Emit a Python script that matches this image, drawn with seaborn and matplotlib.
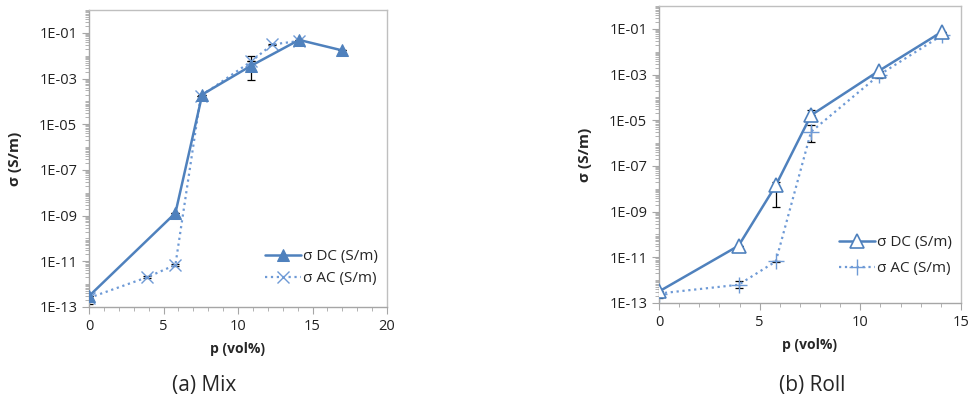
import numpy as np
import seaborn as sns
import matplotlib.pyplot as plt
from matplotlib.ticker import FixedLocator, FuncFormatter, LogLocator, MultipleLocator

# (a) Mix
mix_dc_p = [0, 5.8, 7.6, 10.9, 14.1, 17.0]
mix_dc_s = [3.0e-13, 1.3e-9, 2.0e-4, 3.7e-3, 4.9e-2, 1.7e-2]
mix_dc_lo = [3.0e-13, 1.3e-9, 2.0e-4, 9.0e-4, 4.9e-2, 1.7e-2]
mix_dc_hi = [3.0e-13, 1.3e-9, 2.0e-4, 1.0e-2, 4.9e-2, 1.7e-2]

mix_ac_p = [0, 3.9, 5.8, 7.5, 10.9, 12.3, 14.1]
mix_ac_s = [2.5e-13, 2.0e-12, 7.0e-12, 1.7e-4, 5.7e-3, 3.1e-2, 4.4e-2]
mix_ac_lo = [1.4e-13, 1.8e-12, 6.5e-12, 1.7e-4, 5.7e-3, 2.9e-2, 4.4e-2]
mix_ac_hi = [2.5e-13, 2.2e-12, 7.5e-12, 1.7e-4, 5.7e-3, 3.3e-2, 4.4e-2]

# (b) Roll
roll_dc_p = [0, 3.95, 5.8, 7.55, 10.95, 14.05]
roll_dc_s = [3.2e-13, 3.2e-11, 1.4e-8, 1.65e-5, 1.5e-3, 7.4e-2]
roll_dc_lo = [1.6e-13, 3.2e-11, 1.6e-9, 1.65e-5, 1.5e-3, 7.4e-2]
roll_dc_hi = [3.2e-13, 3.2e-11, 2.0e-8, 2.9e-5, 1.5e-3, 7.4e-2]

roll_ac_p = [0, 3.95, 5.8, 7.55, 10.95, 14.05]
roll_ac_s = [2.6e-13, 6.3e-13, 6.6e-12, 3.1e-6, 9.8e-4, 5.2e-2]
roll_ac_lo = [2.6e-13, 4.5e-13, 6.0e-12, 1.1e-6, 7.0e-4, 5.2e-2]
roll_ac_hi = [2.6e-13, 9.0e-13, 7.2e-12, 6.5e-6, 1.3e-3, 5.2e-2]

dc_color = '#4F81BD'
ac_color = '#6E9AD6'
grid_gray = '#A6A6A6'

sns.set_style('white')
plt.rcParams['font.family'] = ['Open Sans', 'DejaVu Sans']

fig = plt.figure(figsize=(9.7, 4.03), dpi=100)
ax1 = fig.add_axes([89 / 970, 1 - 307 / 403, 298 / 970, 297 / 403])
ax2 = fig.add_axes([659 / 970, 1 - 303 / 403, 302 / 970, 297 / 403])


def draw_errors(ax, p, s, lo, hi):
    s = np.array(s)
    yerr = [s - np.array(lo), np.array(hi) - s]
    ax.errorbar(p, s, yerr=yerr, fmt='none', ecolor='black', elinewidth=0.9,
                capsize=3, capthick=0.9, zorder=1)


def style_axes(ax, xmax):
    ax.set_yscale('log')
    ax.set_ylim(1e-13, 1)
    ax.set_xlim(0, xmax)
    ax.yaxis.set_major_locator(FixedLocator(10.0 ** np.arange(-13, 0, 2)))
    ax.yaxis.set_minor_locator(LogLocator(base=10, subs=np.arange(1, 10), numticks=100))
    ax.yaxis.set_major_formatter(FuncFormatter(lambda v, pos: '1E-%02d' % round(-np.log10(v))))
    ax.yaxis.set_minor_formatter(FuncFormatter(lambda v, pos: ''))
    ax.xaxis.set_major_locator(MultipleLocator(5))
    ax.xaxis.set_minor_locator(MultipleLocator(1))
    for sp in ax.spines.values():
        sp.set_color('#BFBFBF')
        sp.set_linewidth(1.0)
    ax.spines['left'].set_color(grid_gray)
    ax.spines['bottom'].set_color(grid_gray)
    ax.tick_params(which='major', direction='out', length=5, width=0.8, color=grid_gray,
                   labelsize=10.5, labelcolor='#222222', left=True, bottom=True)
    ax.tick_params(which='minor', direction='out', length=3, width=0.6, color=grid_gray,
                   left=True, bottom=True)
    ax.set_xlabel('p (vol%)', fontsize=10, fontweight='bold', labelpad=6)
    ax.set_ylabel('σ (S/m)', fontsize=11, fontweight='bold', labelpad=12)


# Mix panel
draw_errors(ax1, mix_dc_p, mix_dc_s, mix_dc_lo, mix_dc_hi)
draw_errors(ax1, mix_ac_p, mix_ac_s, mix_ac_lo, mix_ac_hi)
sns.lineplot(x=mix_dc_p, y=mix_dc_s, ax=ax1, color=dc_color, linewidth=1.8,
             marker='^', markersize=9, markeredgecolor=dc_color, markerfacecolor=dc_color,
             label='σ DC (S/m)', zorder=3)
sns.lineplot(x=mix_ac_p, y=mix_ac_s, ax=ax1, color=ac_color, linewidth=1.6,
             linestyle=':', marker='x', markersize=9, markeredgewidth=1.0,
             markeredgecolor=ac_color, label='σ AC (S/m)', zorder=2)
style_axes(ax1, 20)
ax1.legend(loc='lower right', bbox_to_anchor=(1.0, 0.04), frameon=False, fontsize=11,
           handlelength=2.4, handletextpad=0.1, labelspacing=0.45, borderaxespad=0.2)

# Roll panel
draw_errors(ax2, roll_dc_p, roll_dc_s, roll_dc_lo, roll_dc_hi)
draw_errors(ax2, roll_ac_p, roll_ac_s, roll_ac_lo, roll_ac_hi)
sns.lineplot(x=roll_dc_p, y=roll_dc_s, ax=ax2, color=dc_color, linewidth=1.8,
             marker='^', markersize=10, markeredgecolor=dc_color, markerfacecolor='white',
             markeredgewidth=1.2, label='σ DC (S/m)', zorder=3)
sns.lineplot(x=roll_ac_p, y=roll_ac_s, ax=ax2, color=ac_color, linewidth=1.6,
             linestyle=':', marker='+', markersize=11, markeredgewidth=1.0,
             markeredgecolor=ac_color, label='σ AC (S/m)', zorder=2)
style_axes(ax2, 15)
ax2.legend(loc='lower right', bbox_to_anchor=(1.0, 0.06), frameon=False, fontsize=11,
           handlelength=2.4, handletextpad=0.1, labelspacing=0.7, borderaxespad=0.2)

fig.text(204 / 970, 1 - 385 / 403, '(a) Mix', ha='center', va='center', fontsize=15)
fig.text(812 / 970, 1 - 385 / 403, '(b) Roll', ha='center', va='center', fontsize=15)

fig.savefig('out.png', dpi=100)
